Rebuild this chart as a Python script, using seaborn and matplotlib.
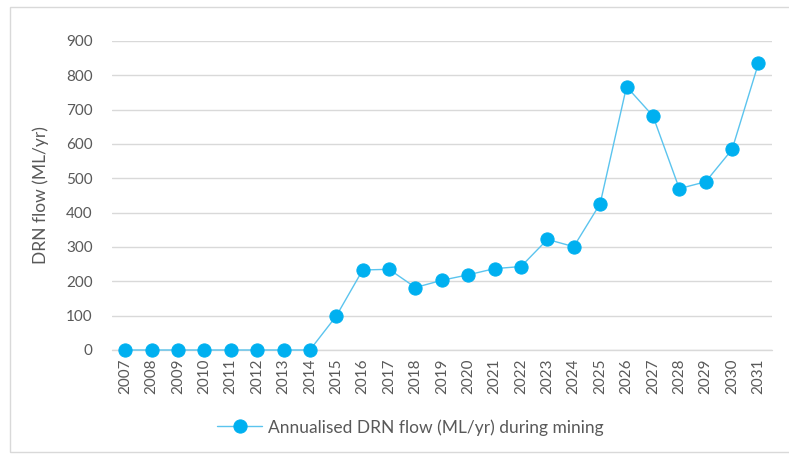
import matplotlib
matplotlib.use("Agg")
import matplotlib.pyplot as plt
import matplotlib.patches as mpatches
import seaborn as sns
import pandas as pd

years = [str(y) for y in range(2007, 2032)]
flow = [0, 0, 0, 0, 0, 0, 0, 0, 99, 233, 235, 182, 203, 219, 237, 243,
        322, 301, 426, 767, 682, 470, 490, 584, 835]
series_name = "Annualised DRN flow (ML/yr) during mining"
y_ticks = [0, 100, 200, 300, 400, 500, 600, 700, 800, 900]

df = pd.DataFrame({"pos": range(len(years)), "year": years, "flow": flow})

sns.set_theme(style="white")
plt.rcParams["font.family"] = ["Lato", "DejaVu Sans"]

fig = plt.figure(figsize=(7.89, 4.55), dpi=100)
ax = fig.add_axes([0.142, 0.2308, 0.836, 0.6791])

# chart frame
fig.patches.append(mpatches.Rectangle((10 / 789, 3 / 455), 1.2, 445 / 455,
                                      transform=fig.transFigure, fill=False,
                                      edgecolor="#D9D9D9", linewidth=1.0))

line_col = "#5BC4EE"
dot_col = "#00B0F0"
sns.lineplot(data=df, x="pos", y="flow", ax=ax, color=line_col, linewidth=1.0,
             marker="o", markersize=9.5, markerfacecolor=dot_col,
             markeredgecolor=dot_col, label=series_name, zorder=3)

ax.set_xlim(-0.5, len(years) - 0.5)
ax.set_ylim(0, 900)
ax.set_yticks(y_ticks)
ax.set_yticklabels([str(v) for v in y_ticks], fontsize=11, color="#595959")
ax.set_xticks(range(len(years)))
ax.set_xticklabels(years, rotation=90, fontsize=11, color="#595959")
ax.tick_params(axis="both", length=0, pad=6)
ax.tick_params(axis="y", pad=14)
ax.set_xlabel("")
ax.set_ylabel("DRN flow (ML/yr)", fontsize=12.5, color="#595959", labelpad=12)

ax.grid(axis="y", color="#D9D9D9", linewidth=1.0)
ax.grid(axis="x", visible=False)
ax.set_axisbelow(True)
for s in ax.spines.values():
    s.set_visible(False)
ax.axhline(0, color="#D9D9D9", linewidth=1.0, zorder=1)
for ln in ax.get_lines():
    ln.set_clip_on(False)

leg = ax.legend(loc="center", bbox_to_anchor=(0.452, -0.25), frameon=False,
                fontsize=12.5, handlelength=2.6, handletextpad=0.3)
for t in leg.get_texts():
    t.set_color("#595959")

fig.savefig("out.png", dpi=100)
